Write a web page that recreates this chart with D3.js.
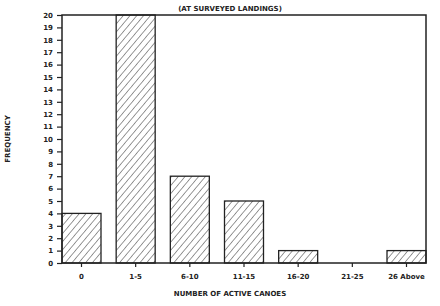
<!DOCTYPE html>
<html>
<head>
<meta charset="utf-8">
<script src="https://cdn.jsdelivr.net/npm/d3@7"></script>
<style>
  body { margin: 0; background: #fff; }
  svg text { font-family: "DejaVu Sans", sans-serif; font-weight: bold; fill: #222; }
</style>
</head>
<body>
<script>
// categories and counts
var categories = ['0', '1-5', '6-10', '11-15', '16-20', '21-25', '26 Above'];
var frequency = [4, 20, 7, 5, 1, 0, 1];
var yTicks = d3.range(0, 21);

var width = 440,
	height = 306;

var margin = {top: 15, right: 14, bottom: 43, left: 62};

var svg = d3.select('body')
	.append('svg')
	.attr('width', width)
	.attr('height', height);

// hatch pattern for the bars ("/" lines, a bit steeper than 45 degrees)
var defs = svg.append('defs');
defs.append('pattern')
	.attr('id', 'hatch')
	.attr('patternUnits', 'userSpaceOnUse')
	.attr('width', 5.2)
	.attr('height', 6)
	.attr('patternTransform', 'rotate(40)')
	.append('line')
	.attr('x1', 0).attr('y1', 0)
	.attr('x2', 0).attr('y2', 6)
	.attr('stroke', '#333')
	.attr('stroke-width', 1);

var x = d3.scaleBand()
	.domain(categories)
	.range([margin.left, width - margin.right])
	.paddingInner(0.28)
	.paddingOuter(0);

var y = d3.scaleLinear()
	.domain([0, 20])
	.range([height - margin.bottom, margin.top]);

// bars
svg.append('g')
	.selectAll('rect')
	.data(frequency)
	.enter().append('rect')
	.attr('x', function(d, i) { return x(categories[i]); })
	.attr('y', function(d) { return y(d); })
	.attr('width', x.bandwidth())
	.attr('height', function(d) { return y(0) - y(d); })
	.attr('fill', 'url(#hatch)')
	.attr('stroke', '#222')
	.attr('stroke-width', function(d) { return d > 0 ? 1.3 : 0; });

// y axis
var yAxis = svg.append('g')
	.attr('transform', 'translate(' + margin.left + ',0)')
	.call(d3.axisLeft(y).tickValues(yTicks).tickSize(5).tickPadding(4));

// x axis
var xAxis = svg.append('g')
	.attr('transform', 'translate(0,' + y(0) + ')')
	.call(d3.axisBottom(x).tickSize(4).tickPadding(7));

[yAxis, xAxis].forEach(function(a) {
	a.select('.domain').remove();
	a.selectAll('line').attr('stroke', '#222').attr('stroke-width', 1.2);
	a.selectAll('text').attr('font-size', 7).attr('font-family', '"DejaVu Sans", sans-serif').attr('font-weight', 'bold').attr('fill', '#222');
});

// frame around the plot
svg.append('rect')
	.attr('x', margin.left)
	.attr('y', margin.top)
	.attr('width', width - margin.left - margin.right)
	.attr('height', height - margin.top - margin.bottom)
	.attr('fill', 'none')
	.attr('stroke', '#222')
	.attr('stroke-width', 1.5);

// titles
svg.append('text')
	.attr('x', 230)
	.attr('y', 11)
	.attr('text-anchor', 'middle')
	.attr('font-size', 7)
	.text('(AT SURVEYED LANDINGS)');

svg.append('text')
	.attr('x', 230)
	.attr('y', 296)
	.attr('text-anchor', 'middle')
	.attr('font-size', 7)
	.text('NUMBER OF ACTIVE CANOES');

svg.append('text')
	.attr('transform', 'translate(10,139) rotate(-90)')
	.attr('text-anchor', 'middle')
	.attr('font-size', 7)
	.text('FREQUENCY');
</script>
</body>
</html>
